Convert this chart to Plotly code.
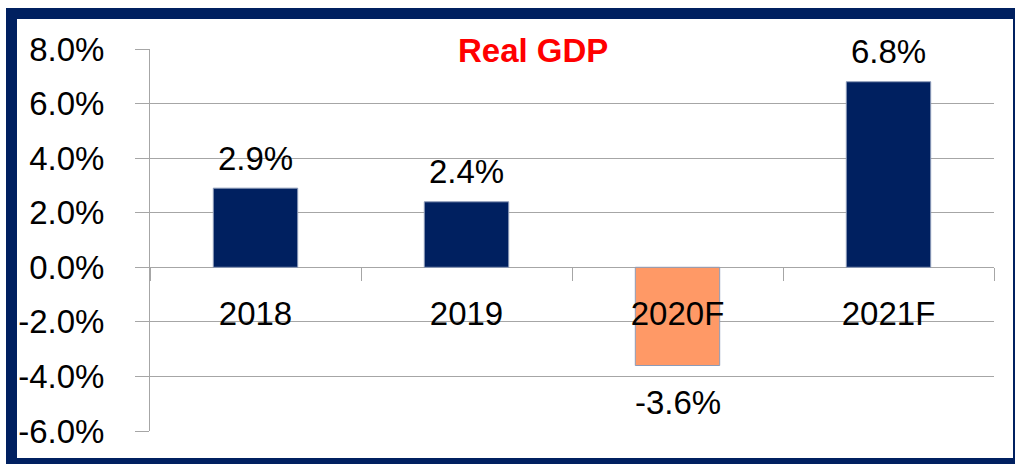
import plotly.graph_objects as go

categories = ["2018", "2019", "2020F", "2021F"]
gdp_growth = [2.9, 2.4, -3.6, 6.8]
bar_colors = ["#002060", "#002060", "#FF9966", "#002060"]
y_ticks = [-6, -4, -2, 0, 2, 4, 6, 8]
y_tick_labels = [f"{v:.1f}%" for v in y_ticks]
title_text = "Real GDP"

FONT = "Liberation Sans, Arial, sans-serif"
NAVY = "#002060"
GRID = "#A6A6A6"
FS = 33

W, H = 1015, 464
ML, MR, MT, MB = 150, 21, 49, 33
PW, PH = W - ML - MR, H - MT - MB


def px(x):  # figure pixel -> paper x
    return (x - ML) / PW


def py(y):  # figure pixel -> paper y
    return (H - MB - y) / PH


fig = go.Figure()
fig.add_trace(go.Bar(
    x=categories, y=gdp_growth, width=0.4,
    marker=dict(color=bar_colors, line=dict(color="#8C9BB8", width=1)),
    hoverinfo="skip", showlegend=False,
))

for i, v in enumerate(gdp_growth):
    fig.add_annotation(x=i, y=v, text=f"{v:.1f}%", showarrow=False,
                       yshift=30 if v >= 0 else -37,
                       font=dict(family=FONT, size=FS, color="#000000"))

fig.add_annotation(xref="paper", yref="paper", x=px(533), y=py(51),
                   xanchor="center", yanchor="middle",
                   text=f"<b>{title_text}</b>", showarrow=False,
                   font=dict(family=FONT, size=33, color="#FF0000"))

# outer navy frame
fig.add_shape(type="rect", xref="paper", yref="paper",
              x0=px(11.5), x1=px(1018.5), y0=py(463.5), y1=py(13.5),
              line=dict(color=NAVY, width=11), fillcolor="rgba(0,0,0,0)", layer="above")

fig.update_layout(
    width=W, height=H,
    margin=dict(l=ML, r=MR, t=MT, b=MB),
    paper_bgcolor="white", plot_bgcolor="white",
    font=dict(family=FONT, size=FS, color="#000000"),
    hovermode=False,
    xaxis=dict(
        type="category", range=[-0.5, 3.5], anchor="free", position=6 / 14,
        showline=False, showgrid=False, zeroline=False,
        ticks="outside", ticklen=13, tickwidth=1, tickcolor=GRID,
        tickson="boundaries", ticklabelstandoff=24,
        tickfont=dict(family=FONT, size=FS, color="#000000"),
    ),
    yaxis=dict(
        range=[-6, 8], tickvals=y_ticks, ticktext=y_tick_labels,
        showgrid=True, gridcolor=GRID, gridwidth=1,
        zeroline=True, zerolinecolor=GRID, zerolinewidth=1,
        showline=True, linecolor=GRID, linewidth=1,
        ticks="outside", ticklen=14, tickcolor=GRID,
        ticklabelstandoff=24,
        tickfont=dict(family=FONT, size=FS, color="#000000"),
    ),
)

fig.write_html("out.html",
               config={"displayModeBar": False, "staticPlot": True},
               post_script="document.body.style.margin='0';document.body.style.overflow='hidden';")
